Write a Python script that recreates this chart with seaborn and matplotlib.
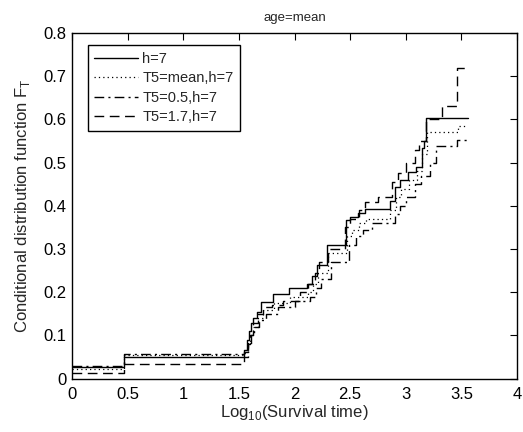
import pandas as pd
import seaborn as sns
import matplotlib.pyplot as plt

# Step data (log10 survival time vs conditional CDF)
x_h7 = [0, 0.47, 1.55, 1.57, 1.59, 1.61, 1.63, 1.66, 1.70, 1.81, 1.95, 2.11, 2.16, 2.20,
        2.29, 2.46, 2.50, 2.57, 2.63, 2.86, 2.90, 2.95, 3.02, 3.09, 3.145, 3.16, 3.18, 3.56]
y_h7 = [0.026, 0.050, 0.066, 0.09, 0.11, 0.13, 0.14, 0.155, 0.178, 0.196, 0.209, 0.219, 0.238, 0.263,
        0.31, 0.367, 0.375, 0.384, 0.393, 0.411, 0.444, 0.46, 0.479, 0.49, 0.533, 0.549, 0.603, 0.603]

x_mean = [0, 0.47, 1.55, 1.58, 1.60, 1.63, 1.67, 1.72, 1.82, 1.96, 2.12, 2.17, 2.21, 2.30,
          2.47, 2.52, 2.58, 2.64, 2.86, 2.91, 2.96, 3.03, 3.10, 3.15, 3.19, 3.47, 3.55]
y_mean = [0.022, 0.055, 0.06, 0.085, 0.10, 0.12, 0.14, 0.159, 0.176, 0.19, 0.20, 0.22, 0.245, 0.29,
          0.33, 0.345, 0.36, 0.37, 0.39, 0.42, 0.44, 0.46, 0.48, 0.52, 0.57, 0.585, 0.585]

x_05 = [0, 0.47, 1.55, 1.58, 1.61, 1.64, 1.68, 1.74, 1.85, 2.00, 2.14, 2.19, 2.24, 2.33,
        2.49, 2.55, 2.62, 2.70, 2.90, 2.95, 3.00, 3.08, 3.14, 3.22, 3.27, 3.46, 3.55]
y_05 = [0.030, 0.058, 0.062, 0.08, 0.10, 0.12, 0.135, 0.15, 0.165, 0.18, 0.19, 0.21, 0.23, 0.27,
        0.31, 0.33, 0.345, 0.36, 0.38, 0.40, 0.42, 0.45, 0.47, 0.50, 0.539, 0.553, 0.553]

x_17 = [0, 0.47, 1.55, 1.58, 1.60, 1.63, 1.67, 1.72, 1.80, 1.90, 2.05, 2.12, 2.18, 2.22, 2.30,
        2.45, 2.50, 2.58, 2.63, 2.75, 2.88, 2.93, 3.00, 3.08, 3.12, 3.18, 3.33, 3.46, 3.55]
y_17 = [0.014, 0.034, 0.05, 0.08, 0.10, 0.13, 0.15, 0.165, 0.17, 0.18, 0.20, 0.22, 0.245, 0.27, 0.30,
        0.35, 0.37, 0.39, 0.41, 0.42, 0.455, 0.475, 0.50, 0.53, 0.55, 0.60, 0.63, 0.72, 0.72]

labels = ["h=7", "T5=mean,h=7", "T5=0.5,h=7", "T5=1.7,h=7"]
styles = ["-", (0, (1, 2.5)), (0, (7, 3, 1.5, 3)), (0, (7, 4))]
widths = [1.0, 0.9, 1.0, 1.0]

series = [(x_h7, y_h7), (x_mean, y_mean), (x_05, y_05), (x_17, y_17)]

sns.set_theme(style="white")
plt.rcParams['font.family'] = ['Liberation Sans', 'DejaVu Sans']

fig = plt.figure(figsize=(5.23, 4.32), dpi=100)
ax = fig.add_axes([0.1377, 0.1234, 0.8508, 0.8002])

for (xs, ys), lab, ls, lw in zip(series, labels, styles, widths):
    df = pd.DataFrame({"x": xs, "y": ys})
    sns.lineplot(data=df, x="x", y="y", ax=ax, color="black", linestyle=ls,
                 linewidth=lw, drawstyle="steps-post", estimator=None,
                 sort=False, label=lab)

ax.set_xlim(0, 4)
ax.set_ylim(0, 0.8)
ax.set_xticks([0, 0.5, 1, 1.5, 2, 2.5, 3, 3.5, 4])
ax.set_xticklabels(["0", "0.5", "1", "1.5", "2", "2.5", "3", "3.5", "4"])
ax.set_yticks([0, 0.1, 0.2, 0.3, 0.4, 0.5, 0.6, 0.7, 0.8])
ax.set_yticklabels(["0", "0.1", "0.2", "0.3", "0.4", "0.5", "0.6", "0.7", "0.8"])
ax.tick_params(direction="in", length=5, width=0.8, top=True, right=True,
               labelsize=12, colors="black", pad=4)
ax.tick_params(axis="x", pad=6)
for sp in ax.spines.values():
    sp.set_color("black")
    sp.set_linewidth(1.0)

ax.set_title("age=mean", fontsize=9.5, pad=9)
ax.set_xlabel(r"Log$_\mathregular{10}$(Survival time)", fontsize=12, labelpad=1)
ax.set_ylabel(r"Conditional distribution function F$_\mathregular{T}$", fontsize=12, labelpad=8)

leg = ax.legend(loc="upper left", bbox_to_anchor=(0.035, 0.965), borderaxespad=0,
                fontsize=10.5, fancybox=False, framealpha=1, handlelength=3.0,
                handletextpad=0.3, labelspacing=0.38, borderpad=0.45)
leg.get_frame().set_edgecolor("black")
leg.get_frame().set_linewidth(1.0)

plt.savefig("out.png", dpi=100)
